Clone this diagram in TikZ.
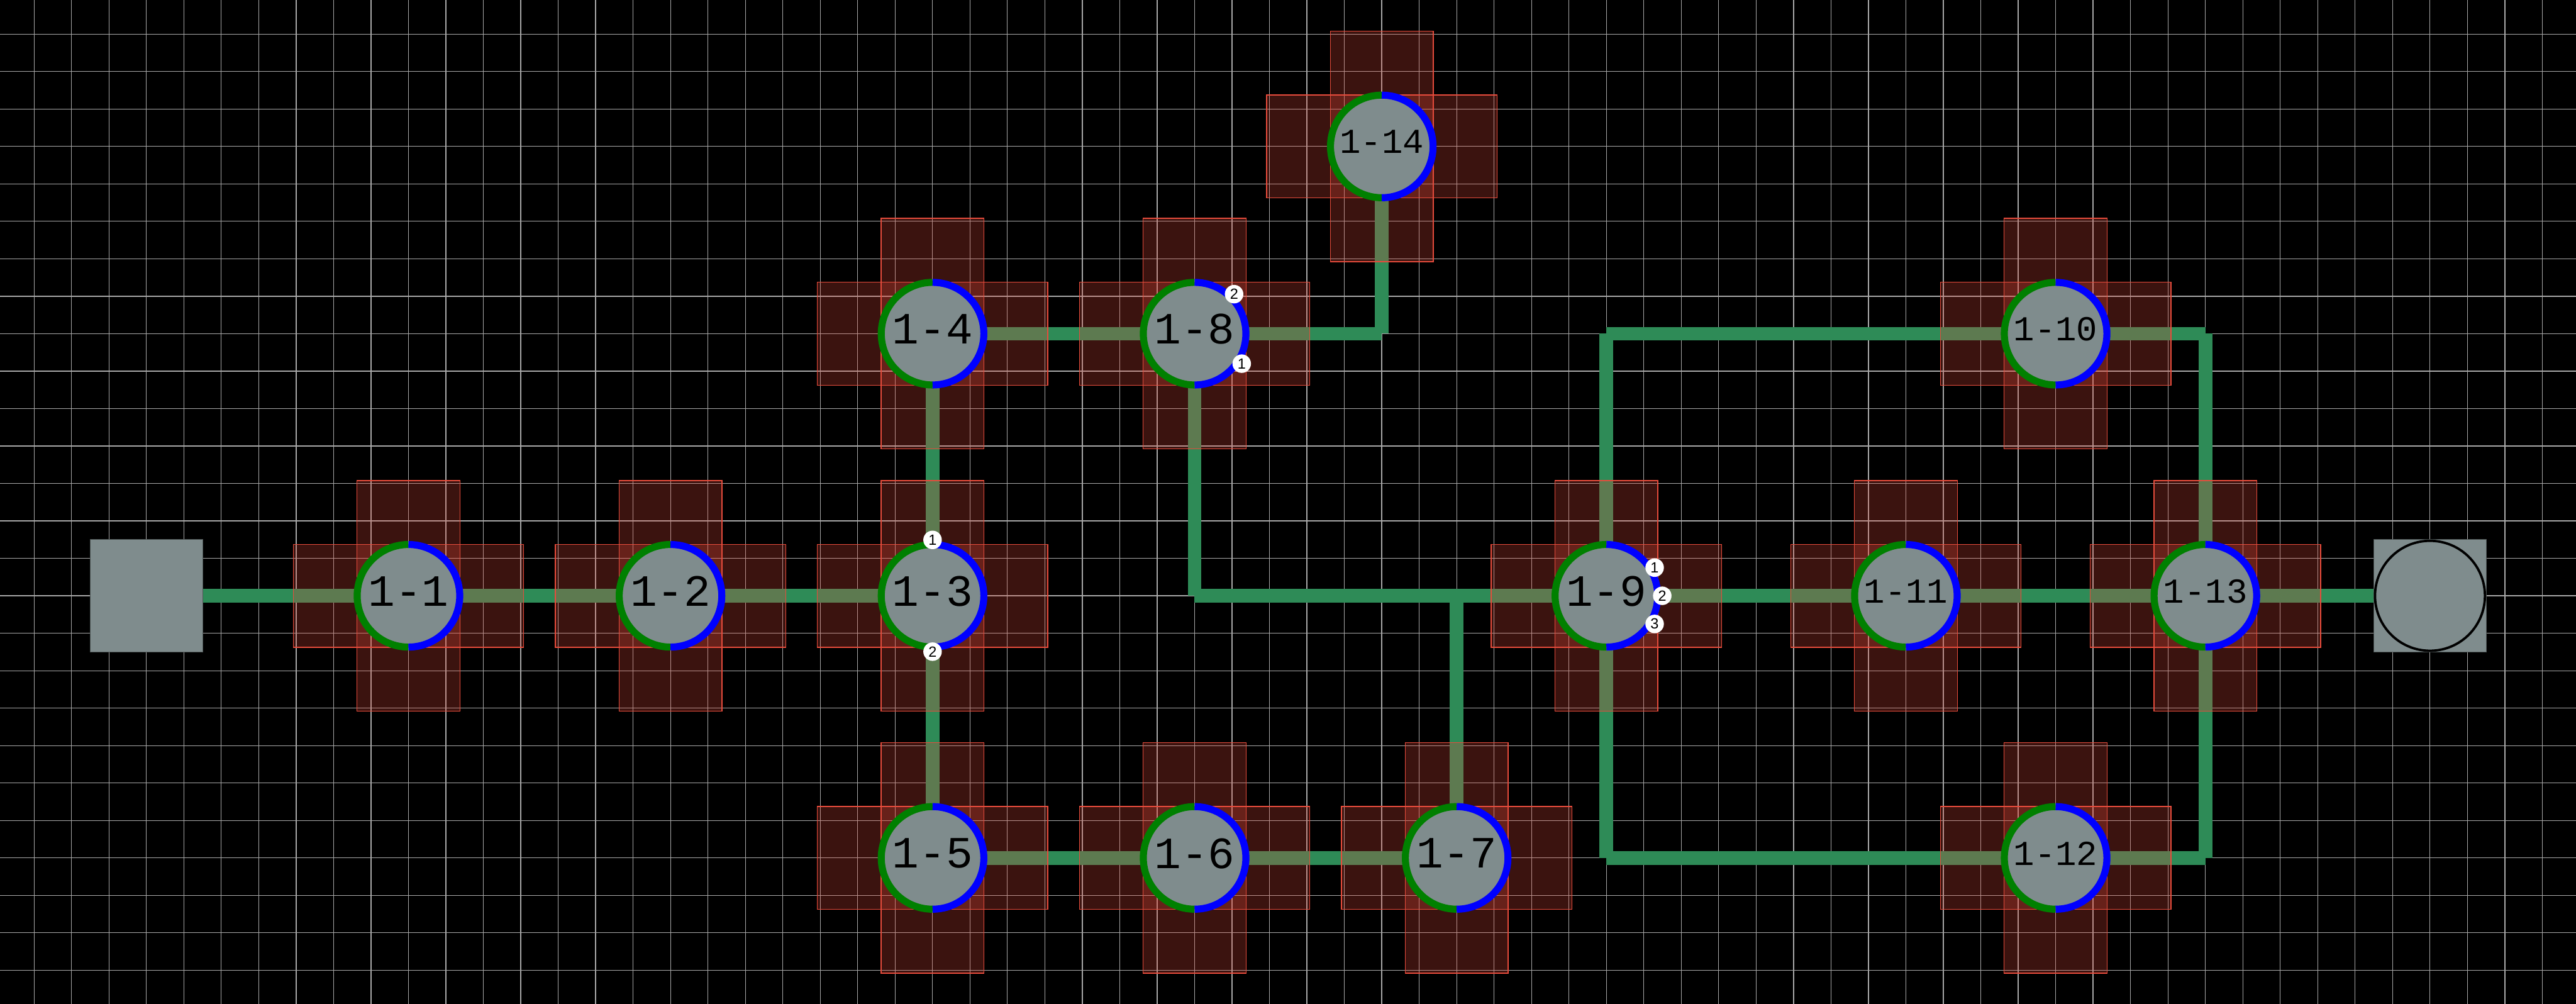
\documentclass[tikz,border=0pt]{standalone}
\usepackage{fontspec}
\usepackage{tikz}
\usetikzlibrary{calc,backgrounds}
\newfontfamily\labelfont{Liberation Mono}
\newfontfamily\portfont{Liberation Sans}

\definecolor{gridGray}{RGB}{168,168,168}
\definecolor{nodeGray}{RGB}{127,140,141}
\definecolor{boxEdge}{RGB}{80,88,88}
\definecolor{wireGreen}{RGB}{46,139,87}
\definecolor{zoneRed}{RGB}{231,76,60}
\definecolor{ringGreen}{RGB}{0,128,0}
\definecolor{ringBlue}{RGB}{0,0,255}

\pgfdeclarelayer{gridlayer}
\pgfdeclarelayer{wirelayer}
\pgfdeclarelayer{zonelayer}
\pgfsetlayers{gridlayer,wirelayer,zonelayer,main}

\tikzset{
  flNode/.style={circle, fill=nodeGray, inner sep=0pt, outer sep=0pt,
    minimum size=1.37cm, text depth=3.5pt,
    font=\labelfont\fontsize{17}{17}\selectfont, text=black},
  flNodeW/.style={flNode, font=\labelfont\fontsize{13.3}{13.3}\selectfont},
  flBox/.style={rectangle, fill=nodeGray, draw=boxEdge, line width=0.25pt,
    minimum size=1.5cm, inner sep=0pt, outer sep=0pt},
  %% half rings
  flIn/.style={draw=ringGreen, line width=2.67pt},
  flOut/.style={draw=ringBlue, line width=2.67pt},
  %% links and zones
  flWire/.style={draw=wireGreen, line width=5.2pt},
  flZone/.style={draw=zoneRed, line width=0.35pt, fill=zoneRed, fill opacity=0.26},
  %% port number tag
  flPort/.style={circle, fill=white, inner sep=0pt, minimum size=0.247cm,
    font=\portfont\fontsize{5.6}{5.6}\selectfont},
  flGrid/.style={draw=gridGray, line width=0.3pt},
}

\begin{document}
\begin{tikzpicture}[x=0.5cm, y=0.5cm]
\useasboundingbox (-0.9109,-0.9016) rectangle (67.9016,25.9109);

\begin{pgfonlayer}{gridlayer}
\fill[black] (-0.9109,-0.9016) rectangle (67.9016,25.9109);
\draw[flGrid, step=1] (-0.9109,-0.9016) grid (67.9016,25.9109);
\end{pgfonlayer}

\node[flBox]   (nSrc) at (3,10)  {};
\node[flNode]  (n1)   at (10,10) {1-1};
\node[flNode]  (n2)   at (17,10) {1-2};
\node[flNode]  (n3)   at (24,10) {1-3};
\node[flNode]  (n4)   at (24,17) {1-4};
\node[flNode]  (n5)   at (24,3)  {1-5};
\node[flNode]  (n6)   at (31,3)  {1-6};
\node[flNode]  (n7)   at (38,3)  {1-7};
\node[flNode]  (n8)   at (31,17) {1-8};
\node[flNode]  (n9)   at (42,10) {1-9};
\node[flNodeW] (n10)  at (54,17) {1-10};
\node[flNodeW] (n11)  at (50,10) {1-11};
\node[flNodeW] (n12)  at (54,3)  {1-12};
\node[flNodeW] (n13)  at (58,10) {1-13};
\node[flNodeW] (n14)  at (36,22) {1-14};
\node[flBox]   (nSnk) at (64,10) {};
\draw[black, line width=0.9pt] (nSnk) circle[radius=0.734cm];

\foreach \i in {1,...,14} {
  \draw[flIn]  (n\i.north) arc[start angle=90, end angle=270, radius=0.685cm];
  \draw[flOut] (n\i.south) arc[start angle=-90, end angle=90, radius=0.685cm];
}

\begin{pgfonlayer}{zonelayer}
\foreach \i in {1,...,14} {
  \draw[flZone] (n\i) +(-3.078,-1.375) rectangle +(3.078,1.375);
  \draw[flZone] (n\i) +(-1.375,-3.078) rectangle +(1.375,3.078);
}
\end{pgfonlayer}

\begin{pgfonlayer}{wirelayer}
\foreach \a/\b in {nSrc/n1, n1/n2, n2/n3, n3/n4, n3/n5, n4/n8, n5/n6, n6/n7,
                   n9/n11, n11/n13, n13/nSnk}
  \draw[flWire] (\a.center) -- (\b.center);
%% elbows, vertical first
\foreach \a/\b in {n8/n9, n7/n9, n9/n10, n9/n12} {
  \draw[flWire] (\a.center) -- (\a.center |- \b.center);
  \draw[flWire] (\a.center |- \b.center) -- (\b.center);
}
%% elbows, horizontal first
\foreach \a/\b in {n8/n14, n10/n13, n12/n13} {
  \draw[flWire] (\a.center) -- (\a.center -| \b.center);
  \draw[flWire] (\a.center -| \b.center) -- (\b.center);
}
\end{pgfonlayer}

\node[flPort] (p3a) at ($(n3)!0.746cm!(n4)$)  {1};
\node[flPort] (p3b) at ($(n3)!0.746cm!(n5)$)  {2};
\node[flPort] (p8a) at ($(n8)!0.746cm!(n9)$)  {1};
\node[flPort] (p8b) at ($(n8)!0.746cm!(n14)$) {2};
\node[flPort] (p9a) at ($(n9)!0.746cm!(n10)$) {1};
\node[flPort] (p9b) at ($(n9)!0.746cm!(n11)$) {2};
\node[flPort] (p9c) at ($(n9)!0.746cm!(n12)$) {3};

\end{tikzpicture}
\end{document}
